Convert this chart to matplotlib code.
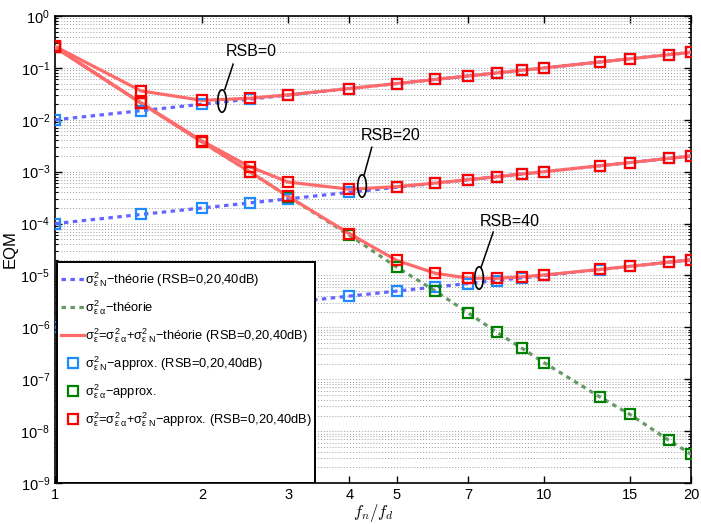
import numpy as np
import matplotlib
matplotlib.use("Agg")
import matplotlib.pyplot as plt
from matplotlib.lines import Line2D
from matplotlib.patches import Ellipse, Rectangle

plt.rcParams['font.family'] = ['Liberation Sans', 'DejaVu Sans']
plt.rcParams['mathtext.fontset'] = 'custom'
plt.rcParams['mathtext.rm'] = 'Liberation Sans'
plt.rcParams['mathtext.it'] = 'Liberation Sans:italic'
plt.rcParams['mathtext.bf'] = 'Liberation Sans:bold'
plt.rcParams['mathtext.sf'] = 'Liberation Sans'

# ---------------- data ----------------
fn_fd = [1, 1.5, 2, 2.5, 3, 4, 5, 6, 7, 8, 9, 10, 13, 15, 18, 20]
x_ticks = [1, 2, 3, 4, 5, 7, 10, 15, 20]
rsb_db = [0, 20, 40]

# noise part sigma^2_{eps N} for RSB = 0, 20, 40 dB
sig_N_0 = [1.0e-2, 1.5e-2, 2.0e-2, 2.5e-2, 3.0e-2, 4.0e-2, 5.0e-2, 6.0e-2, 7.0e-2,
           8.0e-2, 9.0e-2, 1.0e-1, 1.3e-1, 1.5e-1, 1.8e-1, 2.0e-1]
sig_N_20 = [1.0e-4, 1.5e-4, 2.0e-4, 2.5e-4, 3.0e-4, 4.0e-4, 5.0e-4, 6.0e-4, 7.0e-4,
            8.0e-4, 9.0e-4, 1.0e-3, 1.3e-3, 1.5e-3, 1.8e-3, 2.0e-3]
sig_N_40 = [1.0e-6, 1.5e-6, 2.0e-6, 2.5e-6, 3.0e-6, 4.0e-6, 5.0e-6, 6.0e-6, 7.0e-6,
            8.0e-6, 9.0e-6, 1.0e-5, 1.3e-5, 1.5e-5, 1.8e-5, 2.0e-5]
# interpolation part sigma^2_{eps alpha}
sig_alpha = [2.5e-1, 2.1e-2, 3.7e-3, 1.0e-3, 3.3e-4, 6.0e-5, 1.45e-5, 5.0e-6, 1.9e-6,
             8.1e-7, 4.0e-7, 2.1e-7, 4.6e-8, 2.1e-8, 6.7e-9, 3.6e-9]

sig_N = [sig_N_0, sig_N_20, sig_N_40]

# ---------------- style ----------------
c_blue_line = '#6464ff'
c_green_line = '#669966'
c_red_line = '#ff6b6b'
c_blue_mk = '#1e8cff'
c_green_mk = '#008000'
c_red_mk = '#ff0000'

fig = plt.figure(figsize=(7.01, 5.24), dpi=100)
ax = fig.add_axes([0.0785, 0.0782, 0.9073, 0.8912])
ax.set_xscale('log')
ax.set_yscale('log')

x = np.array(fn_fd)
alpha = np.array(sig_alpha)
dot_style = dict(linestyle=(0, (1.4, 1.4)), lw=2.3)

for n in sig_N:
    ax.plot(x, n, color=c_blue_line, **dot_style, zorder=3)
ax.plot(x, alpha, color=c_green_line, **dot_style, zorder=3)
for n in sig_N:
    ax.plot(x, alpha + np.array(n), color=c_red_line, lw=2.3, zorder=4)

mk = dict(marker='s', linestyle='none', markersize=7.5, markerfacecolor='none',
          markeredgewidth=1.6, zorder=5)
for n in sig_N:
    ax.plot(x, n, markeredgecolor=c_blue_mk, **mk)
ax.plot(x, alpha, markeredgecolor=c_green_mk, **mk)
for n in sig_N:
    ax.plot(x, alpha + np.array(n), markeredgecolor=c_red_mk, **mk)

ax.set_xlim(1, 20)
ax.set_ylim(1e-9, 1)
ax.set_xticks(x_ticks)
ax.set_xticklabels([str(t) for t in x_ticks])
ax.xaxis.set_minor_locator(matplotlib.ticker.NullLocator())
ax.set_yticks([10.0 ** k for k in range(-9, 1)])
ax.yaxis.set_minor_locator(matplotlib.ticker.LogLocator(base=10, subs=np.arange(2, 10), numticks=20))
ax.yaxis.set_minor_formatter(matplotlib.ticker.NullFormatter())
ax.tick_params(which='both', direction='in', top=True, right=True, labelsize=10.5)
ax.tick_params(which='major', length=5, width=1)
ax.tick_params(which='minor', length=2.5, width=0.8)
ax.grid(True, which='both', axis='y', linestyle=(0, (1, 2)), color='#9a9a9a', lw=0.7)
for s in ax.spines.values():
    s.set_linewidth(1.2)

ax.set_xlabel(r'$f_n/f_d$', fontsize=12, math_fontfamily='cm', labelpad=0)
ax.set_ylabel('EQM', fontsize=12, labelpad=2)

# annotations
ann = [((0.2626, 0.818), (0.267, 0.843), (0.280, 0.897), (0.308, 0.925), 'RSB=0'),
       ((0.4827, 0.636), (0.486, 0.660), (0.498, 0.719), (0.527, 0.745), 'RSB=20'),
       ((0.6667, 0.439), (0.670, 0.4625), (0.689, 0.5375), (0.715, 0.561), 'RSB=40')]
for c, p0, p1, tp, txt in ann:
    ax.add_patch(Ellipse(c, 0.0135, 0.048, transform=ax.transAxes, fill=False,
                         edgecolor='black', lw=1.2, zorder=6))
    ax.plot([p0[0], p1[0]], [p0[1], p1[1]], color='black', lw=1.1,
            transform=ax.transAxes, zorder=6)
    ax.text(tp[0], tp[1], txt, transform=ax.transAxes, ha='center', va='center',
            fontsize=11.5, zorder=6)

# legend box (MATLAB-like, larger than content)
ax.add_patch(Rectangle((0.003, 0.0), 0.406, 0.473, transform=ax.transAxes,
                       facecolor='white', edgecolor='black', lw=1.4, zorder=8))

lab_N = r'$\mathrm{σ}^2_{\mathrm{ε\ N}}$'
lab_a = r'$\mathrm{σ}^2_{\mathrm{ε\ α}}$'
lab_t = r'$\mathrm{σ}^2_{\mathrm{ε}}$=' + lab_a + '+' + lab_N
rsb_txt = ' (RSB=' + ','.join(str(r) for r in rsb_db) + 'dB)'
labels = [lab_N + '−théorie' + rsb_txt,
          lab_a + '−théorie',
          lab_t + '−théorie' + rsb_txt,
          lab_N + '−approx.' + rsb_txt,
          lab_a + '−approx.',
          lab_t + '−approx.' + rsb_txt]
handles = [Line2D([], [], color=c_blue_line, **dot_style),
           Line2D([], [], color=c_green_line, **dot_style),
           Line2D([], [], color=c_red_line, lw=2.3),
           Line2D([], [], markeredgecolor=c_blue_mk, **mk),
           Line2D([], [], markeredgecolor=c_green_mk, **mk),
           Line2D([], [], markeredgecolor=c_red_mk, **mk)]
leg = ax.legend(handles, labels, loc='upper left', bbox_to_anchor=(0.006, 0.461),
                frameon=False, fontsize=9.3, handlelength=1.75, handletextpad=0.1,
                labelspacing=0.72, borderpad=0.2, borderaxespad=0.0)
leg.set_zorder(9)

fig.savefig('out.png', dpi=100)
